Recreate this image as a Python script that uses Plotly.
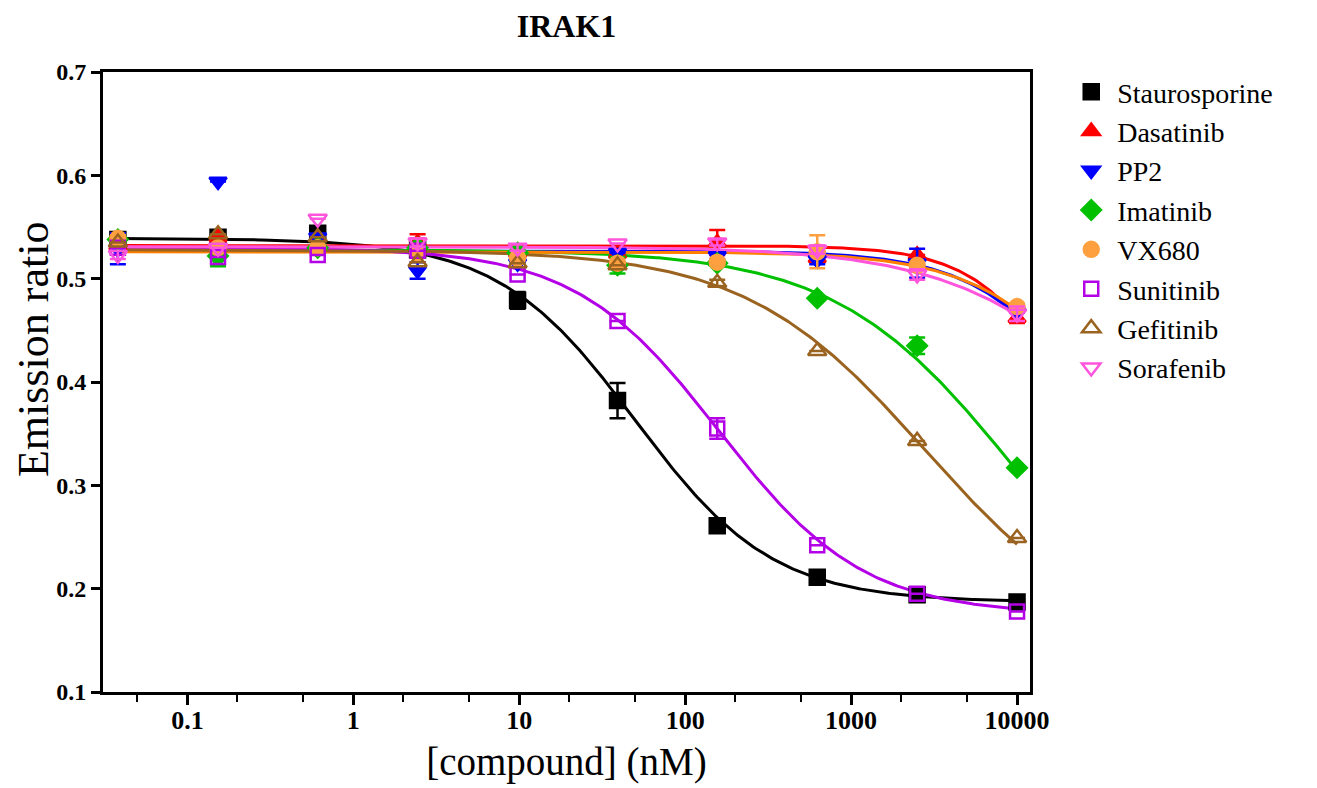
import numpy as np
import plotly.graph_objects as go

# ---------------- data ----------------
conc = [0.0381, 0.153, 0.610, 2.44, 9.77, 39.1, 156, 625, 2500, 10000]
tick_vals = [0.1, 1, 10, 100, 1000, 10000]
tick_text = ["0.1", "1", "10", "100", "1000", "10000"]
y_ticks = [0.1, 0.2, 0.3, 0.4, 0.5, 0.6, 0.7]

names = ["Staurosporine", "Dasatinib", "PP2", "Imatinib", "VX680",
         "Sunitinib", "Gefitinib", "Sorafenib"]

staurosporine = [0.538, 0.540, 0.544, 0.528, 0.479, 0.382, 0.261, 0.211, 0.194, 0.187]
dasatinib     = [0.532, 0.540, 0.540, 0.535, 0.525, 0.524, 0.535, 0.520, 0.523, 0.462]
pp2           = [0.529, 0.594, 0.540, 0.508, 0.515, 0.525, 0.522, 0.518, 0.515, 0.467]
imatinib      = [0.538, 0.522, 0.530, 0.530, 0.525, 0.513, 0.515, 0.481, 0.435, 0.317]
vx680         = [0.539, 0.530, 0.530, 0.525, 0.520, 0.515, 0.516, 0.526, 0.513, 0.473]
sunitinib     = [0.530, 0.521, 0.523, 0.527, 0.504, 0.459, 0.355, 0.242, 0.195, 0.178]
gefitinib     = [0.535, 0.543, 0.540, 0.516, 0.515, 0.513, 0.496, 0.430, 0.343, 0.249]
sorafenib     = [0.523, 0.530, 0.558, 0.535, 0.530, 0.534, 0.535, 0.528, 0.504, 0.466]

err_staurosporine = [0.004, 0.0, 0.004, 0.004, 0.008, 0.017, 0.003, 0.003, 0.003, 0.003]
err_dasatinib     = [0.0, 0.0, 0.003, 0.008, 0.0, 0.0, 0.012, 0.004, 0.0, 0.005]
err_pp2           = [0.015, 0.0, 0.0, 0.008, 0.0, 0.0, 0.003, 0.004, 0.014, 0.0]
err_imatinib      = [0.003, 0.010, 0.0, 0.0, 0.0, 0.008, 0.0, 0.0, 0.008, 0.0]
err_vx680         = [0.003, 0.0, 0.0, 0.0, 0.0, 0.0, 0.003, 0.016, 0.0, 0.003]
err_sunitinib     = [0.0, 0.0, 0.0, 0.0, 0.0, 0.0, 0.010, 0.0, 0.0, 0.0]
err_gefitinib     = [0.0, 0.0, 0.0, 0.0, 0.0, 0.0, 0.003, 0.0, 0.0, 0.0]
err_sorafenib     = [0.004, 0.0, 0.0, 0.004, 0.003, 0.0, 0.003, 0.004, 0.005, 0.007]

# 4-parameter logistic fit parameters
fit_top    = [0.539, 0.532, 0.527, 0.528, 0.526, 0.530, 0.528, 0.531]
fit_bottom = [0.187, 0.200, 0.200, 0.100, 0.200, 0.175, 0.140, 0.200]
fit_ic50   = [50, 24150, 33490, 10000, 41790, 160, 2800, 56800]
fit_hill   = [1.05, 1.5, 1.2, 0.8, 1.1, 1.0, 0.8, 0.8]

# ---------------- styles ----------------
series = [staurosporine, dasatinib, pp2, imatinib, vx680, sunitinib, gefitinib, sorafenib]
errors = [err_staurosporine, err_dasatinib, err_pp2, err_imatinib, err_vx680,
          err_sunitinib, err_gefitinib, err_sorafenib]
marker_colors = ["#000000", "#FF0000", "#0000FF", "#00C000", "#FFA040",
                 "#B400E6", "#9A6420", "#FF55DD"]
line_colors = ["#000000", "#FF0000", "#0000FF", "#00C000", "#FF8000",
               "#B400E6", "#9A6420", "#FF55DD"]
symbols = ["square", "triangle-up", "triangle-down", "diamond", "circle",
           "square-open", "triangle-up-open", "triangle-down-open"]
sizes = [15, 15, 15, 15, 15, 14, 16, 16]

fig = go.Figure()

xs = np.logspace(np.log10(conc[0]), np.log10(conc[-1]), 400)
for i in range(len(names)):
    ys = fit_bottom[i] + (fit_top[i] - fit_bottom[i]) / (1 + (xs / fit_ic50[i]) ** fit_hill[i])
    fig.add_trace(go.Scatter(x=xs, y=ys, mode="lines",
                             line=dict(color=line_colors[i], width=3),
                             showlegend=False, hoverinfo="skip"))

for i in range(len(names)):
    fig.add_trace(go.Scatter(
        x=conc, y=series[i], mode="markers", name=names[i],
        marker=dict(symbol=symbols[i], size=sizes[i], color=marker_colors[i],
                    line=dict(color=marker_colors[i], width=2.5)),
        error_y=dict(type="data", array=errors[i], visible=True,
                     color=marker_colors[i], thickness=2.5, width=8),
    ))

serif = "Liberation Serif"
fig.update_layout(
    width=1317, height=788,
    margin=dict(l=95, r=295, t=64, b=104),
    plot_bgcolor="white", paper_bgcolor="white",
    title=dict(text="<b>IRAK1</b>", x=0.5, xref="paper", xanchor="center", y=0.978, yanchor="middle",
               font=dict(family=serif, size=32, color="black")),
    xaxis=dict(type="log", range=[np.log10(0.031), np.log10(11970)],
               tickvals=tick_vals, ticktext=tick_text,
               tickfont=dict(family=serif, size=26, color="black", weight="bold"),
               ticks="outside", ticklen=10, tickwidth=2.5, tickcolor="black",
               ticklabelstandoff=-7,
               minor=dict(ticks="outside", ticklen=7, tickwidth=2, tickcolor="black", showgrid=False),
               showline=True, linecolor="black", linewidth=3, mirror=True,
               showgrid=False, zeroline=False,
               title=dict(text="[compound] (nM)", font=dict(family=serif, size=39, color="black"),
                          standoff=14)),
    yaxis=dict(range=[0.1, 0.7], tickvals=y_ticks, tickformat=".1f",
               tickfont=dict(family=serif, size=24, color="black", weight="bold"),
               ticks="outside", ticklen=9, tickwidth=2.5, tickcolor="black",
               showline=True, linecolor="black", linewidth=3, mirror=True,
               showgrid=False, zeroline=False),
    legend=dict(x=1.038, xanchor="left", y=1.008, yanchor="top",
                font=dict(family=serif, size=28, color="black"),
                bgcolor="rgba(0,0,0,0)", tracegroupgap=0, itemsizing="trace", itemwidth=42),
    annotations=[dict(text="Emission ratio", textangle=-90, showarrow=False,
                      xref="paper", yref="paper", x=-0.0755, y=0.5516,
                      xanchor="center", yanchor="middle",
                      font=dict(family=serif, size=44, color="black"))],
)

fig.write_html("out.html")
